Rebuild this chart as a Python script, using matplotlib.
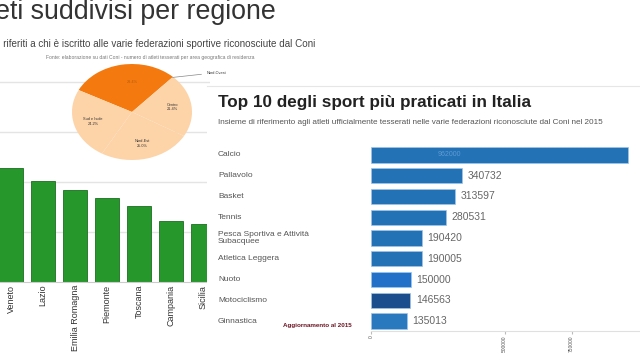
import matplotlib
matplotlib.use("Agg")
import matplotlib.pyplot as plt
import numpy as np

plt.rcParams['font.family'] = ['Liberation Sans', 'DejaVu Sans']

# data: athletes per region (left chart)
regioni = ["Veneto", "Lazio", "Emilia Romagna", "Piemonte", "Toscana", "Campania", "Sicilia"]
atleti_regione = [228000, 202000, 184000, 168000, 152000, 122000, 116000]

# data: pie by area
aree = ["Nord-Ovest", "Sud e Isole", "Nord-Est", "Centro"]
quote_aree = [29.4, 24.2, 25.0, 21.4]
colori_aree = ["#F47A10", "#FDD3A8", "#FDD3A8", "#FDD3A8"]

# data: top sports (right chart)
sport = ["Calcio", "Pallavolo", "Basket", "Tennis", "Pesca Sportiva e Attività\nSubacquee",
         "Atletica Leggera", "Nuoto", "Motociclismo", "Ginnastica"]
atleti_sport = [962000, 340732, 313597, 280531, 190420, 190005, 150000, 146563, 135013]
colori_sport = ["#2372B6", "#2372B6", "#2372B6", "#2372B6", "#2372B6",
                "#2372B6", "#2270C8", "#1A4E8C", "#2A78BE"]

W, H = 640, 360


def box(x0, y0, x1, y1):
    # pixel box -> figure coords
    return [x0 / W, 1 - y1 / H, (x1 - x0) / W, (y1 - y0) / H]


fig = plt.figure(figsize=(6.4, 3.6), dpi=100)
fig.patch.set_facecolor("white")

# titles of the left infographic (the reference is cropped on the left)
fig.text(276 / W, 1 - 12 / H, "Atleti suddivisi per regione", ha="right", va="center",
         fontsize=19.3, color="#333333")
fig.text(315 / W, 1 - 44 / H,
         "Dati riferiti a chi è iscritto alle varie federazioni sportive riconosciute dal Coni",
         ha="right", va="center", fontsize=7.1, color="#444444")
fig.text(150 / W, 1 - 57 / H,
         "Fonte: elaborazione su dati Coni - numero di atleti tesserati per area geografica di residenza",
         ha="center", va="center", fontsize=3.6, color="#777777")

# green bars
ax_bar = fig.add_axes(box(0, 70, 210, 282))
ax_bar.bar(range(len(regioni)), atleti_regione, width=0.75, color="#25972B",
           edgecolor="#1C6F1F", linewidth=0.6, zorder=2)
ax_bar.set_xlim(-11 / 32, (210 - 11) / 32)
ax_bar.set_ylim(0, 424000)
ax_bar.set_yticks([100000, 200000, 300000, 400000])
ax_bar.yaxis.grid(True, color="#E4E4E4", linewidth=1, zorder=0)
ax_bar.tick_params(axis="y", left=False, labelleft=False)
ax_bar.set_xticks(range(len(regioni)))
ax_bar.set_xticklabels(regioni, rotation=90, fontsize=6.5, color="#333333")
ax_bar.tick_params(axis="x", length=0, pad=2)
for s in ax_bar.spines.values():
    s.set_visible(False)
ax_bar.spines["bottom"].set_visible(True)
ax_bar.spines["bottom"].set_color("#CCCCCC")

# pie (elliptic, white background hides grid behind)
ax_pie = fig.add_axes(box(40, 60, 224, 164))
ax_pie.pie(quote_aree, colors=colori_aree, startangle=47, counterclock=True,
           wedgeprops=dict(edgecolor="none"))
ax_pie.set_aspect("auto")
ax_pie.set_facecolor("white")
ax_pie.set_xlim(-92 / 60, 92 / 60)
ax_pie.set_ylim(-52 / 48, 52 / 48)
ax_pie.set_xticks([])
ax_pie.set_yticks([])
for s in ax_pie.spines.values():
    s.set_visible(False)
ang = 47
for i, (nome, q) in enumerate(zip(aree, quote_aree)):
    mid = np.deg2rad(ang + q * 3.6 / 2)
    ang += q * 3.6
    if i == 0:
        ax_pie.annotate(nome, xy=(0.95 * np.cos(0.85), 0.95 * np.sin(0.85)),
                        xytext=(1.25, 0.8), fontsize=2.8, color="#333333",
                        arrowprops=dict(arrowstyle="-", color="#888888", lw=0.5))
        ax_pie.text(0.0, 0.6, f"{q:.1f}%", fontsize=2.8, color="#B85A0A", ha="center")
    else:
        ax_pie.text(0.68 * np.cos(mid), 0.68 * np.sin(mid), f"{nome}\n{q:.1f}%",
                    fontsize=2.8, color="#333333", ha="center", va="center",
                    multialignment="center")

# right panel background
ax_panel = fig.add_axes(box(207, 86, 640, 360))
ax_panel.set_facecolor("white")
ax_panel.set_xticks([])
ax_panel.set_yticks([])
for s in ax_panel.spines.values():
    s.set_visible(False)
ax_panel.spines["top"].set_visible(True)
ax_panel.spines["top"].set_color("#E6E6E6")

fig.text(218 / W, 1 - 103 / H, "Top 10 degli sport più praticati in Italia", ha="left",
         va="center", fontsize=12.3, fontweight="bold", color="#222222")
fig.text(218 / W, 1 - 123 / H,
         "Insieme di riferimento agli atleti ufficialmente tesserati nelle varie federazioni riconosciute dal Coni nel 2015",
         ha="left", va="center", fontsize=5.9, color="#555555")

# horizontal bars
ax_h = fig.add_axes(box(371, 144.6, 640, 331.4))
ax_h.set_facecolor("none")
pos = range(len(sport))
ax_h.barh(pos, atleti_sport, height=0.73, color=colori_sport, edgecolor="#9CC6EA", linewidth=0.5)
ax_h.set_ylim(len(sport) - 0.5, -0.5)
ax_h.set_xlim(0, 1006000)
ax_h.set_yticks([])
for i, (nome, v) in enumerate(zip(sport, atleti_sport)):
    ax_h.text(-0.569, i, nome, transform=ax_h.get_yaxis_transform(), ha="left", va="center",
              fontsize=6, color="#555555", linespacing=1.1)
    if i == 0:
        ax_h.annotate(str(v), xy=(v * 0.26, i), xytext=(0, 0), textcoords="offset points",
                      ha="left", va="center", fontsize=5, color="#5E9AD2")
    else:
        ax_h.annotate(str(v), xy=(v, i), xytext=(4, 0), textcoords="offset points",
                      ha="left", va="center", fontsize=7.5, color="#666666")
ax_h.set_xticks([0, 500000, 750000])
ax_h.set_xticklabels(["0", "500000", "750000"], rotation=90, fontsize=3.5, color="#555555")
ax_h.tick_params(axis="x", length=2, color="#BBBBBB", pad=1)
for s in ax_h.spines.values():
    s.set_visible(False)
ax_h.spines["bottom"].set_visible(True)
ax_h.spines["bottom"].set_color("#E0E0E0")

fig.text(317 / W, 1 - 326 / H, "Aggiornamento al 2015", ha="center", va="center",
         fontsize=4.5, fontweight="bold", color="#6B1422")

fig.savefig("out.png", dpi=100)
